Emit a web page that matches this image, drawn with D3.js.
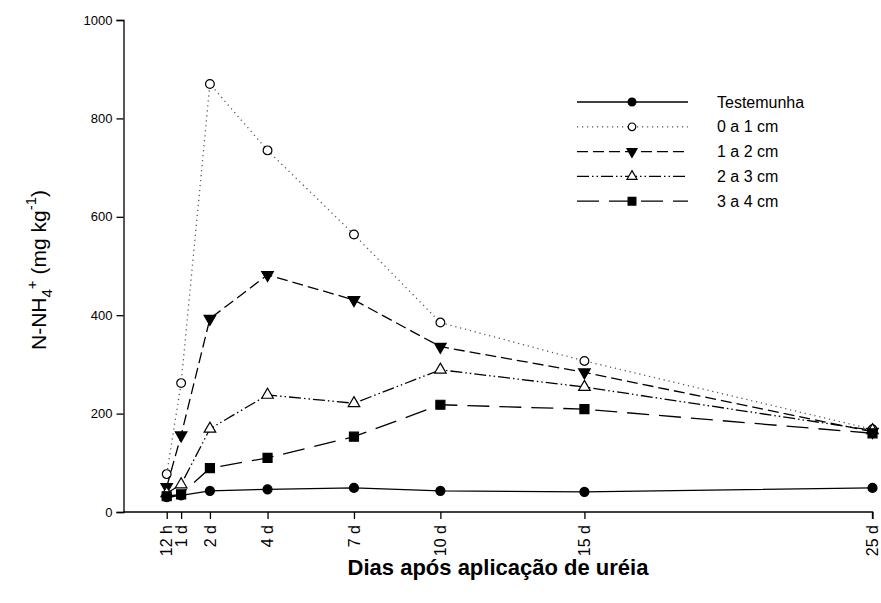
<!DOCTYPE html>
<html><head><meta charset="utf-8">
<script src="https://cdn.jsdelivr.net/npm/d3@7"></script>
<style>
body{margin:0;background:#fff}
text{font-family:Arial,"Liberation Sans",sans-serif;fill:#000}
</style>
</head><body>
<svg id="chart" width="881" height="603"></svg>
<script>
// Sampling times (days after urea application) and their tick labels
const days = [0.5, 1, 2, 4, 7, 10, 15, 25];
const dayLabels = ["12 h", "1 d", "2 d", "4 d", "7 d", "10 d", "15 d", "25 d"];
const yTicks = [0, 200, 400, 600, 800, 1000];

// N-NH4+ (mg kg-1) by soil layer
const seriesNames = ["Testemunha", "0 a 1 cm", "1 a 2 cm", "2 a 3 cm", "3 a 4 cm"];
const testemunha = [30, 34, 43, 46, 49, 43, 41, 49];
const camada0a1 = [77, 262, 870, 735, 564, 385, 307, 168];
const camada1a2 = [51, 156, 393, 482, 431, 336, 284, 163];
const camada2a3 = [38, 56, 169, 238, 221, 289, 254, 166];
const camada3a4 = [32, 36, 89, 110, 153, 218, 209, 160];

const seriesValues = [testemunha, camada0a1, camada1a2, camada2a3, camada3a4];

const styles = [
  {dash: null, symbol: d3.symbolCircle, size: 64, fill: "#000", rot: 0},
  {dash: "1.2,3.8", symbol: d3.symbolCircle, size: 60, fill: "#fff", rot: 0, stroke: "#555"},
  {dash: "11,5", symbol: d3.symbolTriangle, size: 58, fill: "#000", rot: 180},
  {dash: "12,3,1.5,3,1.5,3", symbol: d3.symbolTriangle, size: 58, fill: "#fff", rot: 0},
  {dash: "22,10", symbol: d3.symbolSquare, size: 81, fill: "#000", rot: 0}
];

const svg = d3.select("#chart");
const x = d3.scaleLinear().domain([-1, 25]).range([123.5, 872.5]);
const y = d3.scaleLinear().domain([0, 1000]).range([512, 20]);

// Axes
const yAxis = svg.append("g").attr("transform", "translate(123.5,0)")
  .call(d3.axisLeft(y).tickValues(yTicks).tickFormat(d3.format("d")).tickSize(7).tickPadding(4));
yAxis.selectAll("text").style("font-size", "13px");

const xAxis = svg.append("g").attr("transform", "translate(0,512)")
  .call(d3.axisBottom(x).tickValues(days).tickFormat((d, i) => dayLabels[i]).tickSize(7).tickSizeOuter(0));
xAxis.select(".domain").attr("d", `M${x(-1)},0H${x(25)}V7`);
xAxis.selectAll("text")
  .style("font-size", "16px")
  .attr("transform", "rotate(-90)")
  .attr("text-anchor", "end")
  .attr("x", -13).attr("y", 0).attr("dy", "0.33em");
svg.selectAll(".domain, .tick line").attr("stroke", "#000").attr("stroke-width", 1.3);

// Axis titles
svg.append("text")
  .attr("x", x(12)).attr("y", 575)
  .attr("text-anchor", "middle")
  .style("font-size", "22px").style("font-weight", "bold")
  .text("Dias após aplicação de uréia");

const yLab = svg.append("text")
  .attr("transform", "translate(46,270) rotate(-90)")
  .attr("text-anchor", "middle")
  .style("font-size", "21px");
yLab.append("tspan").text("N-NH");
yLab.append("tspan").attr("dy", "6").style("font-size", "15px").text("4");
yLab.append("tspan").attr("dy", "-15").style("font-size", "15px").text("+");
yLab.append("tspan").attr("dy", "9").text(" (mg kg");
yLab.append("tspan").attr("dy", "-10").style("font-size", "15px").text("-1");
yLab.append("tspan").attr("dy", "10").text(")");

// Series lines and markers
const line = d3.line().x((d, i) => x(days[i])).y(d => y(d));
seriesValues.forEach((vals, k) => {
  const st = styles[k];
  svg.append("path").datum(vals)
    .attr("d", line)
    .attr("fill", "none")
    .attr("stroke", st.stroke || "#000")
    .attr("stroke-width", 1.3)
    .attr("stroke-dasharray", st.dash);
  svg.append("g").selectAll("path").data(vals).join("path")
    .attr("d", d3.symbol().type(st.symbol).size(st.size))
    .attr("transform", (d, i) => `translate(${x(days[i])},${y(d)}) rotate(${st.rot})`)
    .attr("fill", st.fill).attr("stroke", "#000").attr("stroke-width", 1.2);
});

// Legend
const legend = svg.append("g");
seriesNames.forEach((name, k) => {
  const st = styles[k];
  const ly = 102 + k * 24.8;
  legend.append("line")
    .attr("x1", 577).attr("x2", 688).attr("y1", ly).attr("y2", ly)
    .attr("stroke", st.stroke || "#000").attr("stroke-width", 1.3)
    .attr("stroke-dasharray", st.dash);
  legend.append("path")
    .attr("d", d3.symbol().type(st.symbol).size(st.size * 0.75))
    .attr("transform", `translate(632,${ly}) rotate(${st.rot})`)
    .attr("fill", st.fill).attr("stroke", "#000").attr("stroke-width", 1.2);
  legend.append("text")
    .attr("x", 717).attr("y", ly).attr("dy", "0.35em")
    .style("font-size", "16px")
    .text(name);
});
</script>
</body></html>
